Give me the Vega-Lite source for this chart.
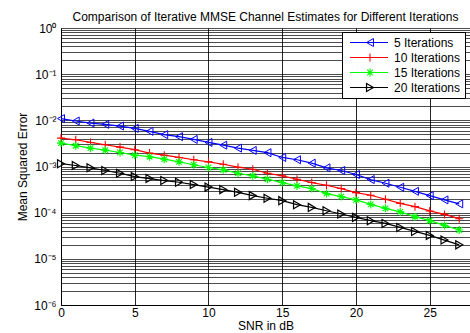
{
  "$schema": "https://vega.github.io/schema/vega-lite/v6.json",
  "autosize": {"type": "none"},
  "padding": {"left": 61, "top": 28, "right": 0, "bottom": 28},
  "width": 409,
  "height": 277,
  "background": "white",
  "config": {
    "font": "Liberation Sans",
    "view": {"stroke": null},
    "axis": {"labelColor": "#000", "titleColor": "#000", "labelFontSize": 12, "titleFontSize": 12, "titleFontWeight": "normal", "domainColor": "#000", "ticks": false, "labelOverlap": false, "labelFlush": false}
  },
  "title": {"text": "Comparison of Iterative MMSE Channel Estimates for Different Iterations", "fontSize": 12, "fontWeight": "normal", "color": "#000", "offset": -2, "anchor": "middle"},
  "datasets": {
    "mse": [
      {"snr": 0, "series": "5 Iterations", "mse": 0.0109},
      {"snr": 1, "series": "5 Iterations", "mse": 0.00966},
      {"snr": 2, "series": "5 Iterations", "mse": 0.00874},
      {"snr": 3, "series": "5 Iterations", "mse": 0.00819},
      {"snr": 4, "series": "5 Iterations", "mse": 0.00752},
      {"snr": 5, "series": "5 Iterations", "mse": 0.0067},
      {"snr": 6, "series": "5 Iterations", "mse": 0.00577},
      {"snr": 7, "series": "5 Iterations", "mse": 0.00489},
      {"snr": 8, "series": "5 Iterations", "mse": 0.00442},
      {"snr": 9, "series": "5 Iterations", "mse": 0.00386},
      {"snr": 10, "series": "5 Iterations", "mse": 0.00332},
      {"snr": 11, "series": "5 Iterations", "mse": 0.0029},
      {"snr": 12, "series": "5 Iterations", "mse": 0.0025},
      {"snr": 13, "series": "5 Iterations", "mse": 0.00223},
      {"snr": 14, "series": "5 Iterations", "mse": 0.00199},
      {"snr": 15, "series": "5 Iterations", "mse": 0.00157},
      {"snr": 16, "series": "5 Iterations", "mse": 0.0014},
      {"snr": 17, "series": "5 Iterations", "mse": 0.00118},
      {"snr": 18, "series": "5 Iterations", "mse": 0.000937},
      {"snr": 19, "series": "5 Iterations", "mse": 0.000819},
      {"snr": 20, "series": "5 Iterations", "mse": 0.00067},
      {"snr": 21, "series": "5 Iterations", "mse": 0.000521},
      {"snr": 22, "series": "5 Iterations", "mse": 0.000434},
      {"snr": 23, "series": "5 Iterations", "mse": 0.000355},
      {"snr": 24, "series": "5 Iterations", "mse": 0.00029},
      {"snr": 25, "series": "5 Iterations", "mse": 0.000234},
      {"snr": 26, "series": "5 Iterations", "mse": 0.000189},
      {"snr": 27, "series": "5 Iterations", "mse": 0.000155},
      {"snr": 0, "series": "10 Iterations", "mse": 0.00412},
      {"snr": 1, "series": "10 Iterations", "mse": 0.0038},
      {"snr": 2, "series": "10 Iterations", "mse": 0.00332},
      {"snr": 3, "series": "10 Iterations", "mse": 0.00296},
      {"snr": 4, "series": "10 Iterations", "mse": 0.00263},
      {"snr": 5, "series": "10 Iterations", "mse": 0.00231},
      {"snr": 6, "series": "10 Iterations", "mse": 0.00195},
      {"snr": 7, "series": "10 Iterations", "mse": 0.00176},
      {"snr": 8, "series": "10 Iterations", "mse": 0.00157},
      {"snr": 9, "series": "10 Iterations", "mse": 0.0014},
      {"snr": 10, "series": "10 Iterations", "mse": 0.00126},
      {"snr": 11, "series": "10 Iterations", "mse": 0.00112},
      {"snr": 12, "series": "10 Iterations", "mse": 0.000966},
      {"snr": 13, "series": "10 Iterations", "mse": 0.000873},
      {"snr": 14, "series": "10 Iterations", "mse": 0.000715},
      {"snr": 15, "series": "10 Iterations", "mse": 0.000628},
      {"snr": 16, "series": "10 Iterations", "mse": 0.00053},
      {"snr": 17, "series": "10 Iterations", "mse": 0.000449},
      {"snr": 18, "series": "10 Iterations", "mse": 0.000392},
      {"snr": 19, "series": "10 Iterations", "mse": 0.000333},
      {"snr": 20, "series": "10 Iterations", "mse": 0.000272},
      {"snr": 21, "series": "10 Iterations", "mse": 0.000238},
      {"snr": 22, "series": "10 Iterations", "mse": 0.000195},
      {"snr": 23, "series": "10 Iterations", "mse": 0.000159},
      {"snr": 24, "series": "10 Iterations", "mse": 0.000135},
      {"snr": 25, "series": "10 Iterations", "mse": 0.000109},
      {"snr": 26, "series": "10 Iterations", "mse": 0.0000918},
      {"snr": 27, "series": "10 Iterations", "mse": 0.0000741},
      {"snr": 0, "series": "15 Iterations", "mse": 0.00321},
      {"snr": 1, "series": "15 Iterations", "mse": 0.00282},
      {"snr": 2, "series": "15 Iterations", "mse": 0.0025},
      {"snr": 3, "series": "15 Iterations", "mse": 0.00226},
      {"snr": 4, "series": "15 Iterations", "mse": 0.00201},
      {"snr": 5, "series": "15 Iterations", "mse": 0.00176},
      {"snr": 6, "series": "15 Iterations", "mse": 0.00163},
      {"snr": 7, "series": "15 Iterations", "mse": 0.00144},
      {"snr": 8, "series": "15 Iterations", "mse": 0.00126},
      {"snr": 9, "series": "15 Iterations", "mse": 0.00109},
      {"snr": 10, "series": "15 Iterations", "mse": 0.000951},
      {"snr": 11, "series": "15 Iterations", "mse": 0.000848},
      {"snr": 12, "series": "15 Iterations", "mse": 0.000715},
      {"snr": 13, "series": "15 Iterations", "mse": 0.000628},
      {"snr": 14, "series": "15 Iterations", "mse": 0.00053},
      {"snr": 15, "series": "15 Iterations", "mse": 0.000449},
      {"snr": 16, "series": "15 Iterations", "mse": 0.00038},
      {"snr": 17, "series": "15 Iterations", "mse": 0.000333},
      {"snr": 18, "series": "15 Iterations", "mse": 0.000259},
      {"snr": 19, "series": "15 Iterations", "mse": 0.000223},
      {"snr": 20, "series": "15 Iterations", "mse": 0.000189},
      {"snr": 21, "series": "15 Iterations", "mse": 0.000151},
      {"snr": 22, "series": "15 Iterations", "mse": 0.000124},
      {"snr": 23, "series": "15 Iterations", "mse": 0.000104},
      {"snr": 24, "series": "15 Iterations", "mse": 0.0000818},
      {"snr": 25, "series": "15 Iterations", "mse": 0.000067},
      {"snr": 26, "series": "15 Iterations", "mse": 0.000053},
      {"snr": 27, "series": "15 Iterations", "mse": 0.0000421},
      {"snr": 0, "series": "20 Iterations", "mse": 0.00115},
      {"snr": 1, "series": "20 Iterations", "mse": 0.00105},
      {"snr": 2, "series": "20 Iterations", "mse": 0.000937},
      {"snr": 3, "series": "20 Iterations", "mse": 0.000819},
      {"snr": 4, "series": "20 Iterations", "mse": 0.000715},
      {"snr": 5, "series": "20 Iterations", "mse": 0.000606},
      {"snr": 6, "series": "20 Iterations", "mse": 0.000548},
      {"snr": 7, "series": "20 Iterations", "mse": 0.000496},
      {"snr": 8, "series": "20 Iterations", "mse": 0.000456},
      {"snr": 9, "series": "20 Iterations", "mse": 0.000406},
      {"snr": 10, "series": "20 Iterations", "mse": 0.000358},
      {"snr": 11, "series": "20 Iterations", "mse": 0.000316},
      {"snr": 12, "series": "20 Iterations", "mse": 0.000276},
      {"snr": 13, "series": "20 Iterations", "mse": 0.000234},
      {"snr": 14, "series": "20 Iterations", "mse": 0.000205},
      {"snr": 15, "series": "20 Iterations", "mse": 0.000182},
      {"snr": 16, "series": "20 Iterations", "mse": 0.000149},
      {"snr": 17, "series": "20 Iterations", "mse": 0.00013},
      {"snr": 18, "series": "20 Iterations", "mse": 0.00011},
      {"snr": 19, "series": "20 Iterations", "mse": 0.0000937},
      {"snr": 20, "series": "20 Iterations", "mse": 0.0000791},
      {"snr": 21, "series": "20 Iterations", "mse": 0.000067},
      {"snr": 22, "series": "20 Iterations", "mse": 0.0000585},
      {"snr": 23, "series": "20 Iterations", "mse": 0.0000479},
      {"snr": 24, "series": "20 Iterations", "mse": 0.0000392},
      {"snr": 25, "series": "20 Iterations", "mse": 0.0000321},
      {"snr": 26, "series": "20 Iterations", "mse": 0.0000255},
      {"snr": 27, "series": "20 Iterations", "mse": 0.0000201}
    ]
  },
  "data": {"name": "mse"},
  "encoding": {
    "x": {
      "field": "snr", "type": "quantitative",
      "scale": {"domain": [0, 27.73], "nice": false, "zero": false},
      "axis": {"title": "SNR in dB", "values": [0, 5, 10, 15, 20, 25], "grid": true, "gridColor": "#000", "gridOpacity": 0.85, "labelPadding": 2, "titlePadding": 2}
    },
    "y": {
      "field": "mse", "type": "quantitative",
      "scale": {"type": "log", "domain": [0.000001, 1], "nice": false},
      "axis": {
        "title": "Mean Squared Error",
        "values": [0.000001, 0.000002, 0.000003, 0.000004, 0.000005, 0.000006, 0.000007, 0.000008, 0.000009, 0.00001, 0.00002, 0.00003, 0.00004, 0.00005, 0.00006, 0.00007, 0.00008, 0.00009, 0.0001, 0.0002, 0.0003, 0.0004, 0.0005, 0.0006, 0.0007, 0.0008, 0.0009, 0.001, 0.002, 0.003, 0.004, 0.005, 0.006, 0.007, 0.008, 0.009, 0.01, 0.02, 0.03, 0.04, 0.05, 0.06, 0.07, 0.08, 0.09, 0.1, 0.2, 0.3, 0.4, 0.5, 0.6, 0.7, 0.8, 0.9, 1],
        "labelExpr": "abs(log(datum.value)/LN10 - round(log(datum.value)/LN10)) < 0.001 ? ['10⁰','10⁻¹','10⁻²','10⁻³','10⁻⁴','10⁻⁵','10⁻⁶'][abs(round(log(datum.value)/LN10))] : ''",
        "grid": true, "gridColor": "#000", "gridOpacity": 0.7, "labelPadding": 5, "titlePadding": 4
      }
    }
  },
  "layer": [
    {
      "mark": {"type": "line", "strokeWidth": 1.2},
      "encoding": {
        "stroke": {
          "field": "series", "type": "nominal",
          "scale": {"domain": ["5 Iterations", "10 Iterations", "15 Iterations", "20 Iterations"], "range": ["#0000ff", "#ff0000", "#00ff00", "#000000"]},
          "legend": {
            "title": null, "orient": "none", "legendX": 281, "legendY": 4,
            "fillColor": "white", "strokeColor": "#000", "padding": 4,
            "labelFontSize": 12, "labelColor": "#000", "labelOffset": 5,
            "symbolType": "stroke", "symbolSize": 1444, "symbolStrokeWidth": 1.2, "symbolOffset": 3,
            "clipHeight": 13, "rowPadding": 2
          }
        }
      }
    },
    {
      "mark": {"type": "point", "filled": false, "size": 64, "opacity": 1},
      "encoding": {
        "color": {
          "field": "series", "type": "nominal",
          "sort": {"field": "mse", "op": "max", "order": "descending"},
          "scale": {"range": ["#0000ff", "#ff0000", "#00ff00", "#000000"]},
          "legend": {
            "title": null, "orient": "none", "legendX": 281, "legendY": 4,
            "padding": 4, "labelFontSize": 12, "labelExpr": "''", "labelOffset": 5,
            "symbolSize": 64, "symbolStrokeWidth": 1, "symbolOffset": 18,
            "clipHeight": 13, "rowPadding": 2
          }
        },
        "shape": {
          "field": "series", "type": "nominal",
          "sort": {"field": "mse", "op": "max", "order": "descending"},
          "scale": {"range": ["triangle-left", "M-1,0L1,0M0,-1L0,1", "M-1,0L1,0M0,-1L0,1M-0.7,-0.7L0.7,0.7M-0.7,0.7L0.7,-0.7", "triangle-right"]},
          "legend": {
            "title": null, "orient": "none", "legendX": 281, "legendY": 4,
            "padding": 4, "labelFontSize": 12, "labelExpr": "''", "labelOffset": 5,
            "symbolSize": 64, "symbolStrokeWidth": 1, "symbolOffset": 18,
            "clipHeight": 13, "rowPadding": 2
          }
        },
        "strokeWidth": {
          "field": "series", "type": "nominal", "legend": null,
          "sort": {"field": "mse", "op": "max", "order": "descending"},
          "scale": {"range": [1, 1.2, 2, 1]}
        }
      }
    },
    {
      "data": {"values": [{}]},
      "mark": {"type": "rule", "color": "#000", "strokeWidth": 1},
      "encoding": {"y": {"datum": 1}, "x": null}
    }
  ]
}
